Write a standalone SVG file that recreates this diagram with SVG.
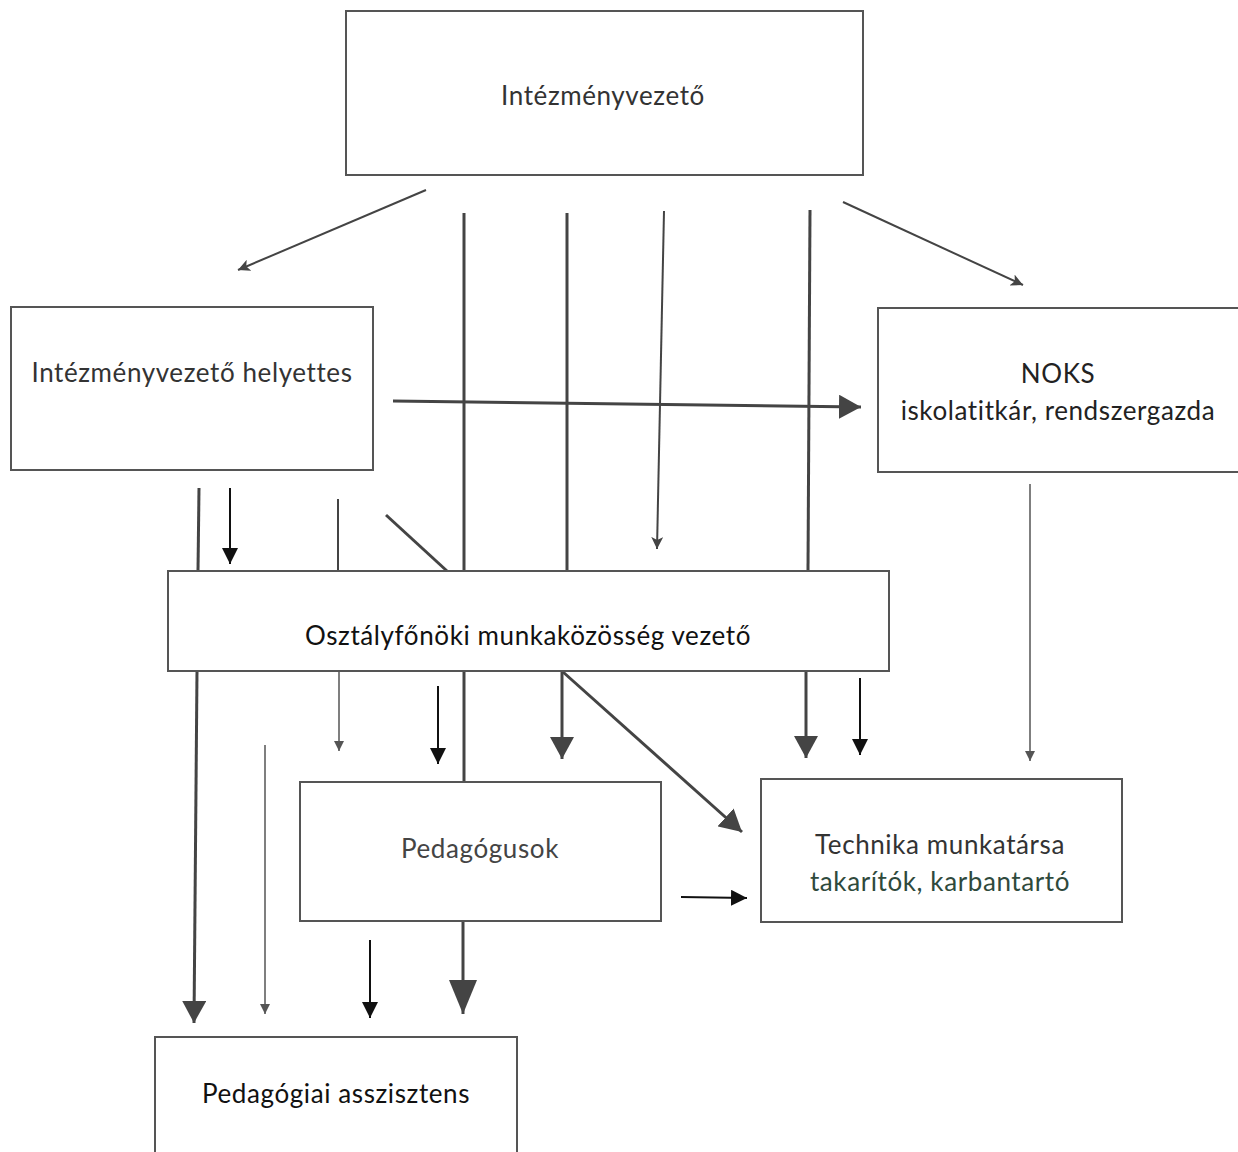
<svg xmlns="http://www.w3.org/2000/svg" width="1238" height="1152" viewBox="0 0 1238 1152">
<defs>
<style>
.box{fill:#fff;stroke:#555;stroke-width:2}
.t{font-family:Lato,"Open Sans","Noto Sans",sans-serif;font-size:26px;letter-spacing:0.6px;text-anchor:middle}
.c{fill:none;stroke:#444;stroke-width:3}
.cb{fill:none;stroke:#111;stroke-width:2}
.ct{fill:none;stroke:#555;stroke-width:1.5}
</style>
<marker id="aS" markerUnits="userSpaceOnUse" viewBox="0 0 12 12" refX="12" refY="6" markerWidth="12" markerHeight="12" orient="auto"><path d="M0,0 L12,6 L0,12 L3,6 z" fill="#444"/></marker>
<marker id="aT" markerUnits="userSpaceOnUse" viewBox="0 0 10 10" refX="10" refY="5" markerWidth="10" markerHeight="10" orient="auto"><path d="M0,0 L10,5 L0,10 z" fill="#555"/></marker>
<marker id="aK" markerUnits="userSpaceOnUse" viewBox="0 0 16 16" refX="16" refY="8" markerWidth="16" markerHeight="16" orient="auto"><path d="M0,0 L16,8 L0,16 z" fill="#111"/></marker>
<marker id="aM" markerUnits="userSpaceOnUse" viewBox="0 0 22 24" refX="22" refY="12" markerWidth="22" markerHeight="24" orient="auto"><path d="M0,0 L22,12 L0,24 z" fill="#444"/></marker>
<marker id="aB" markerUnits="userSpaceOnUse" viewBox="0 0 34 28" refX="34" refY="14" markerWidth="34" markerHeight="28" orient="auto"><path d="M0,0 L34,14 L0,28 z" fill="#444"/></marker>
</defs>
<rect width="1238" height="1152" fill="#fff"/>
<g id="connectors">
<line class="c" x1="426" y1="190" x2="238" y2="270" style="stroke-width:2" marker-end="url(#aS)"/>
<line class="c" x1="843" y1="202" x2="1023" y2="285" style="stroke-width:2" marker-end="url(#aS)"/>
<line class="c" x1="464" y1="213" x2="464" y2="571"/>
<line class="c" x1="464" y1="671" x2="464" y2="782"/>
<line class="c" x1="463" y1="921" x2="463" y2="1014" marker-end="url(#aB)"/>
<line class="c" x1="567" y1="213" x2="567" y2="571"/>
<line class="c" x1="562" y1="671" x2="562" y2="759" marker-end="url(#aM)"/>
<line class="c" x1="664" y1="211" x2="657" y2="549" style="stroke-width:2" marker-end="url(#aS)"/>
<line class="c" x1="810" y1="210" x2="808" y2="571"/>
<line class="c" x1="806" y1="671" x2="806" y2="758" marker-end="url(#aM)"/>
<line class="c" x1="393" y1="401" x2="861" y2="407" marker-end="url(#aM)"/>
<line class="c" x1="199" y1="488" x2="198" y2="571"/>
<line class="c" x1="197" y1="671" x2="194" y2="1023" marker-end="url(#aM)"/>
<line class="cb" x1="230" y1="488" x2="230" y2="564" marker-end="url(#aK)"/>
<line class="c" x1="338" y1="499" x2="338" y2="571" style="stroke-width:2"/>
<line class="ct" x1="339" y1="672" x2="339" y2="751" marker-end="url(#aT)"/>
<line class="c" x1="386" y1="515" x2="447" y2="571"/>
<line class="cb" x1="438" y1="686" x2="438" y2="764" marker-end="url(#aK)"/>
<line class="c" x1="563" y1="672" x2="742" y2="832" marker-end="url(#aM)"/>
<line class="cb" x1="860" y1="678" x2="860" y2="755" marker-end="url(#aK)"/>
<line class="ct" x1="1030" y1="484" x2="1030" y2="761" marker-end="url(#aT)"/>
<line class="ct" x1="265" y1="745" x2="265" y2="1014" marker-end="url(#aT)"/>
<line class="cb" x1="370" y1="940" x2="370" y2="1018" marker-end="url(#aK)"/>
<line class="cb" x1="681" y1="897" x2="747" y2="898" marker-end="url(#aK)"/>
</g>
<g id="n1"><rect class="box" x="346" y="11" width="517" height="164"/><text class="t" x="603" y="105" fill="#333">Intézményvezető</text></g>
<g id="n2"><rect class="box" x="11" y="307" width="362" height="163"/><text class="t" x="192" y="382" fill="#333">Intézményvezető helyettes</text></g>
<g id="n3"><rect class="box" x="878" y="308" width="362" height="164"/><text class="t" x="1058" y="383" fill="#222">NOKS</text><text class="t" x="1058" y="420" fill="#222">iskolatitkár, rendszergazda</text></g>
<g id="n4"><rect class="box" x="168" y="571" width="721" height="100"/><text class="t" x="528" y="645" fill="#111">Osztályfőnöki munkaközösség vezető</text></g>
<g id="n5"><rect class="box" x="300" y="782" width="361" height="139"/><text class="t" x="480" y="858" fill="#444">Pedagógusok</text></g>
<g id="n6"><rect class="box" x="761" y="779" width="361" height="143"/><text class="t" x="940" y="854" fill="#333">Technika munkatársa</text><text class="t" x="940" y="891" fill="#2f4a3c">takarítók, karbantartó</text></g>
<g id="n7"><rect class="box" x="155" y="1037" width="362" height="120"/><text class="t" x="336" y="1103" fill="#111">Pedagógiai asszisztens</text></g>
</svg>
